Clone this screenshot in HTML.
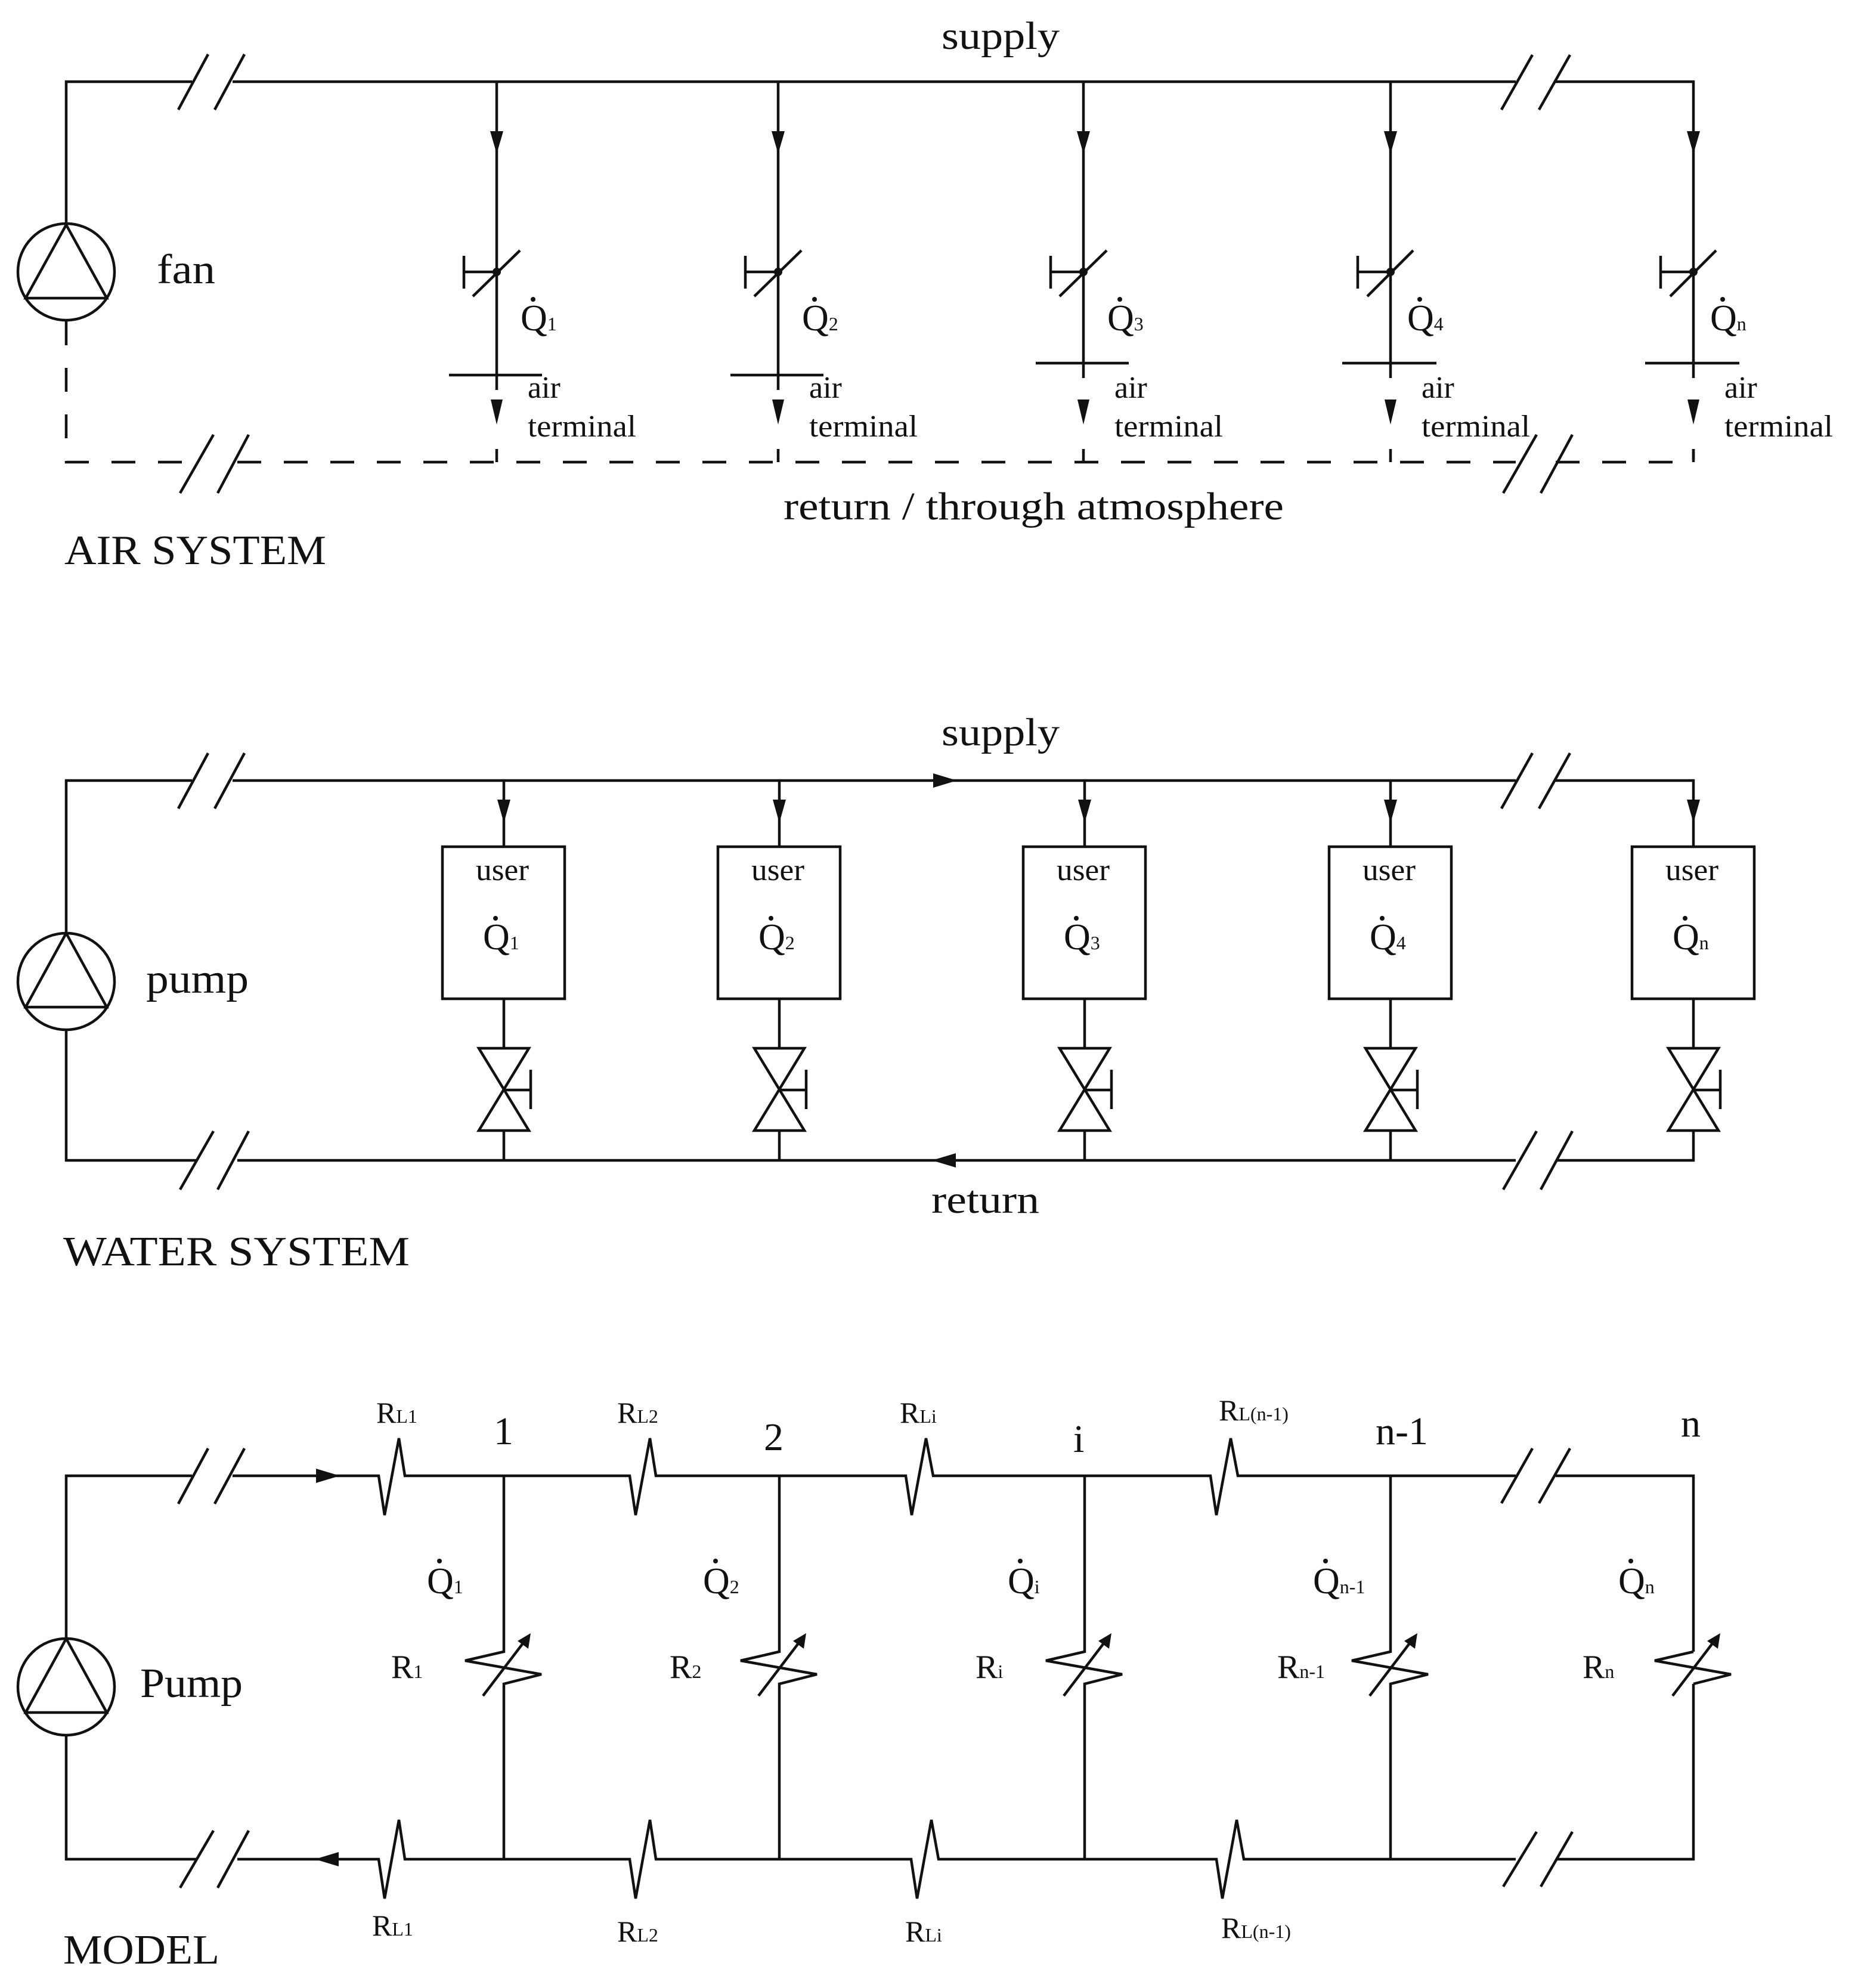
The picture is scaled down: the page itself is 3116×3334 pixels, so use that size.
<!DOCTYPE html>
<html><head><meta charset="utf-8"><style>
html,body{margin:0;padding:0;background:#fff}
svg{display:block}
text{font-family:"Liberation Serif",serif;fill:#111}
.l{stroke:#111;stroke-width:4.5;fill:none}
.d{stroke:#111;stroke-width:4.5;fill:none;stroke-dasharray:40 38}
.f{fill:#111;stroke:none}
</style></head><body>
<svg width="3116" height="3334" viewBox="0 0 3116 3334" xmlns="http://www.w3.org/2000/svg">
<!-- ================= AIR SYSTEM ================= -->
<path class="l" d="M111,377 V137 H322 M390,137 H2542 M2609,137 H2840 V609"/>
<path class="l" d="M299,184 L349,91 M360,184 L410,91 M2518,184 L2570,92 M2581,184 L2633,92"/>
<circle class="l" cx="111" cy="456" r="81"/>
<path class="l" d="M111,377 L43,500 H179 Z"/>
<path class="d" d="M111,539 V775 H330"/>
<path class="d" d="M398,775 H2542"/>
<path class="d" d="M2609,775 H2840 V753"/>
<path class="l" d="M302,827 L358,729 M365,827 L417,729 M2521,827 L2577,729 M2584,827 L2637,729"/>
<text x="1579" y="82" font-size="66" textLength="198" lengthAdjust="spacingAndGlyphs">supply</text>
<text x="263" y="475" font-size="70" textLength="98" lengthAdjust="spacingAndGlyphs">fan</text>
<text x="1314" y="871" font-size="66" textLength="839" lengthAdjust="spacingAndGlyphs">return / through atmosphere</text>
<text x="108" y="946" font-size="70" textLength="439" lengthAdjust="spacingAndGlyphs">AIR SYSTEM</text>

<!-- air branch 1 -->
<g>
<path class="l" d="M833,137 V629 M753,629 H909 M833,629 V654 M778,456 H833 M778,429 V484 M793,497 L872,420 M833,753 V775"/>
<polygon class="f" points="822,220 844,220 833,258"/><polygon class="f" points="823,670 843,670 833,712"/>
<circle class="f" cx="833" cy="456" r="7"/>
<text x="873" y="554" font-size="62">Q<tspan font-size="32">1</tspan></text><circle class="f" cx="894" cy="502" r="4"/>
<text x="885" y="667" font-size="52">air</text><text x="885" y="732" font-size="52" textLength="182" lengthAdjust="spacingAndGlyphs">terminal</text>
</g>
<!-- air branch 2 -->
<g>
<path class="l" d="M1305,137 V629 M1225,629 H1381 M1305,629 V654 M1250,456 H1305 M1250,429 V484 M1265,497 L1344,420 M1305,753 V775"/>
<polygon class="f" points="1294,220 1316,220 1305,258"/><polygon class="f" points="1295,670 1315,670 1305,712"/>
<circle class="f" cx="1305" cy="456" r="7"/>
<text x="1345" y="554" font-size="62">Q<tspan font-size="32">2</tspan></text><circle class="f" cx="1366" cy="502" r="4"/>
<text x="1357" y="667" font-size="52">air</text><text x="1357" y="732" font-size="52" textLength="182" lengthAdjust="spacingAndGlyphs">terminal</text>
</g>
<!-- air branch 3 -->
<g>
<path class="l" d="M1817,137 V609 M1737,609 H1893 M1817,609 V634 M1762,456 H1817 M1762,429 V484 M1777,497 L1856,420 M1817,753 V775"/>
<polygon class="f" points="1806,220 1828,220 1817,258"/><polygon class="f" points="1807,670 1827,670 1817,712"/>
<circle class="f" cx="1817" cy="456" r="7"/>
<text x="1857" y="554" font-size="62">Q<tspan font-size="32">3</tspan></text><circle class="f" cx="1878" cy="502" r="4"/>
<text x="1869" y="667" font-size="52">air</text><text x="1869" y="732" font-size="52" textLength="182" lengthAdjust="spacingAndGlyphs">terminal</text>
</g>
<!-- air branch 4 -->
<g>
<path class="l" d="M2332,137 V609 M2251,609 H2409 M2332,609 V634 M2277,456 H2332 M2277,429 V484 M2293,497 L2370,420 M2332,753 V775"/>
<polygon class="f" points="2321,220 2343,220 2332,258"/><polygon class="f" points="2322,670 2342,670 2332,712"/>
<circle class="f" cx="2332" cy="456" r="7"/>
<text x="2360" y="554" font-size="62">Q<tspan font-size="32">4</tspan></text><circle class="f" cx="2381" cy="502" r="4"/>
<text x="2384" y="667" font-size="52">air</text><text x="2384" y="732" font-size="52" textLength="182" lengthAdjust="spacingAndGlyphs">terminal</text>
</g>
<!-- air branch n -->
<g>
<path class="l" d="M2759,609 H2917 M2840,609 V634 M2785,456 H2840 M2785,429 V484 M2801,497 L2878,420 M2840,753 V775"/>
<polygon class="f" points="2829,220 2851,220 2840,258"/><polygon class="f" points="2830,670 2850,670 2840,712"/>
<circle class="f" cx="2840" cy="456" r="7"/>
<text x="2868" y="554" font-size="62">Q<tspan font-size="32">n</tspan></text><circle class="f" cx="2889" cy="502" r="4"/>
<text x="2892" y="667" font-size="52">air</text><text x="2892" y="732" font-size="52" textLength="182" lengthAdjust="spacingAndGlyphs">terminal</text>
</g>

<!-- ================= WATER SYSTEM ================= -->
<path class="l" d="M111,1565 V1309 H322 M390,1309 H2542 M2609,1309 H2840 V1420"/>
<path class="l" d="M111,1727 V1946 H330 M398,1946 H2542 M2609,1946 H2840 V1896"/>
<path class="l" d="M299,1356 L349,1263 M360,1356 L410,1263 M2518,1356 L2570,1263 M2581,1356 L2633,1263"/>
<path class="l" d="M302,1995 L358,1897 M365,1995 L417,1897 M2521,1995 L2577,1897 M2584,1995 L2637,1897"/>
<circle class="l" cx="111" cy="1646" r="81"/>
<path class="l" d="M111,1565 L43,1689 H179 Z"/>
<polygon class="f" points="1565,1297 1565,1321 1605,1309"/>
<polygon class="f" points="1603,1934 1603,1958 1563,1946"/>
<text x="1579" y="1250" font-size="66" textLength="198" lengthAdjust="spacingAndGlyphs">supply</text>
<text x="245" y="1665" font-size="70" textLength="172" lengthAdjust="spacingAndGlyphs">pump</text>
<text x="1562" y="2034" font-size="66" textLength="181" lengthAdjust="spacingAndGlyphs">return</text>
<text x="106" y="2122" font-size="70" textLength="581" lengthAdjust="spacingAndGlyphs">WATER SYSTEM</text>

<!-- water branches -->
<g>
<path class="l" d="M845,1309 V1420 M845,1675 V1758 M845,1896 V1946 M845,1828 H890 M890,1794 V1860"/>
<rect class="l" x="742" y="1420" width="205" height="255"/>
<path class="l" d="M803,1758 H887 L803,1896 H887 Z"/>
<polygon class="f" points="834,1341 856,1341 845,1380"/>
<text x="798" y="1476" font-size="52" textLength="89" lengthAdjust="spacingAndGlyphs">user</text>
<text x="810" y="1592" font-size="62">Q<tspan font-size="32">1</tspan></text><circle class="f" cx="831" cy="1540" r="4"/>
</g>
<g>
<path class="l" d="M1307,1309 V1420 M1307,1675 V1758 M1307,1896 V1946 M1307,1828 H1352 M1352,1794 V1860"/>
<rect class="l" x="1204" y="1420" width="205" height="255"/>
<path class="l" d="M1265,1758 H1349 L1265,1896 H1349 Z"/>
<polygon class="f" points="1296,1341 1318,1341 1307,1380"/>
<text x="1260" y="1476" font-size="52" textLength="89" lengthAdjust="spacingAndGlyphs">user</text>
<text x="1272" y="1592" font-size="62">Q<tspan font-size="32">2</tspan></text><circle class="f" cx="1293" cy="1540" r="4"/>
</g>
<g>
<path class="l" d="M1819,1309 V1420 M1819,1675 V1758 M1819,1896 V1946 M1819,1828 H1864 M1864,1794 V1860"/>
<rect class="l" x="1716" y="1420" width="205" height="255"/>
<path class="l" d="M1777,1758 H1861 L1777,1896 H1861 Z"/>
<polygon class="f" points="1808,1341 1830,1341 1819,1380"/>
<text x="1772" y="1476" font-size="52" textLength="89" lengthAdjust="spacingAndGlyphs">user</text>
<text x="1784" y="1592" font-size="62">Q<tspan font-size="32">3</tspan></text><circle class="f" cx="1805" cy="1540" r="4"/>
</g>
<g>
<path class="l" d="M2332,1309 V1420 M2332,1675 V1758 M2332,1896 V1946 M2332,1828 H2377 M2377,1794 V1860"/>
<rect class="l" x="2229" y="1420" width="205" height="255"/>
<path class="l" d="M2290,1758 H2374 L2290,1896 H2374 Z"/>
<polygon class="f" points="2321,1341 2343,1341 2332,1380"/>
<text x="2285" y="1476" font-size="52" textLength="89" lengthAdjust="spacingAndGlyphs">user</text>
<text x="2297" y="1592" font-size="62">Q<tspan font-size="32">4</tspan></text><circle class="f" cx="2318" cy="1540" r="4"/>
</g>
<g>
<path class="l" d="M2840,1675 V1758 M2840,1828 H2885 M2885,1794 V1860"/>
<rect class="l" x="2737" y="1420" width="205" height="255"/>
<path class="l" d="M2798,1758 H2882 L2798,1896 H2882 Z"/>
<polygon class="f" points="2829,1341 2851,1341 2840,1380"/>
<text x="2793" y="1476" font-size="52" textLength="89" lengthAdjust="spacingAndGlyphs">user</text>
<text x="2805" y="1592" font-size="62">Q<tspan font-size="32">n</tspan></text><circle class="f" cx="2826" cy="1540" r="4"/>
</g>

<!-- ================= MODEL ================= -->
<path class="l" d="M111,2748 V2475 H322 M390,2475 H635 L645,2541 L669,2412 L679,2475 H1056 L1066,2541 L1090,2412 L1100,2475 H1519 L1529,2541 L1553,2412 L1565,2475 H2030 L2040,2541 L2064,2412 L2076,2475 H2542 M2609,2475 H2840 V2770"/>
<path class="l" d="M111,2910 V3118 H330 M398,3118 H635 L645,3184 L669,3052 L679,3118 H1056 L1066,3184 L1090,3052 L1100,3118 H1528 L1538,3184 L1562,3052 L1574,3118 H2040 L2050,3184 L2074,3052 L2086,3118 H2542 M2609,3118 H2840 V2824"/>
<path class="l" d="M299,2522 L349,2429 M360,2522 L410,2429 M2518,2521 L2570,2429 M2581,2521 L2633,2429"/>
<path class="l" d="M302,3166 L358,3070 M365,3166 L417,3070 M2521,3164 L2577,3072 M2584,3164 L2637,3072"/>
<circle class="l" cx="111" cy="2829" r="81"/>
<path class="l" d="M111,2748 L43,2872 H179 Z"/>
<polygon class="f" points="530,2463 530,2487 570,2475"/>
<polygon class="f" points="568,3106 568,3130 528,3118"/>
<text x="235" y="2846" font-size="70" textLength="172" lengthAdjust="spacingAndGlyphs">Pump</text>
<text x="106" y="3293" font-size="70" textLength="262" lengthAdjust="spacingAndGlyphs">MODEL</text>

<!-- branch variable resistors -->
<g>
<path class="l" d="M845,2475 V2770 L780,2785 L908,2808 L845,2824 V3118 M810,2844 L880,2752"/>
<polygon class="f" points="890,2739 868,2752 886,2765"/>
<path class="l" d="M1307,2475 V2770 L1242,2785 L1370,2808 L1307,2824 V3118 M1272,2844 L1342,2752"/>
<polygon class="f" points="1352,2739 1330,2752 1348,2765"/>
<path class="l" d="M1819,2475 V2770 L1754,2785 L1882,2808 L1819,2824 V3118 M1784,2844 L1854,2752"/>
<polygon class="f" points="1864,2739 1842,2752 1860,2765"/>
<path class="l" d="M2332,2475 V2770 L2267,2785 L2395,2808 L2332,2824 V3118 M2297,2844 L2367,2752"/>
<polygon class="f" points="2377,2739 2355,2752 2373,2765"/>
<path class="l" d="M2840,2770 L2775,2785 L2903,2808 L2840,2824 M2805,2844 L2875,2752"/>
<polygon class="f" points="2885,2739 2863,2752 2881,2765"/>
</g>

<!-- model labels -->
<text x="631" y="2386" font-size="50">R<tspan font-size="32">L1</tspan></text>
<text x="1035" y="2386" font-size="50">R<tspan font-size="32">L2</tspan></text>
<text x="1509" y="2386" font-size="50">R<tspan font-size="32">Li</tspan></text>
<text x="2044" y="2382" font-size="50">R<tspan font-size="32">L(n-1)</tspan></text>
<text x="624" y="3246" font-size="50">R<tspan font-size="32">L1</tspan></text>
<text x="1035" y="3256" font-size="50">R<tspan font-size="32">L2</tspan></text>
<text x="1518" y="3256" font-size="50">R<tspan font-size="32">Li</tspan></text>
<text x="2048" y="3250" font-size="50">R<tspan font-size="32">L(n-1)</tspan></text>

<text x="828" y="2422" font-size="66">1</text>
<text x="1281" y="2432" font-size="66">2</text>
<text x="1800" y="2435" font-size="66">i</text>
<text x="2307" y="2422" font-size="66">n-1</text>
<text x="2819" y="2409" font-size="66">n</text>

<text x="716" y="2672" font-size="62">Q<tspan font-size="32">1</tspan></text><circle class="f" cx="737" cy="2618" r="4"/>
<text x="1179" y="2672" font-size="62">Q<tspan font-size="32">2</tspan></text><circle class="f" cx="1200" cy="2618" r="4"/>
<text x="1690" y="2672" font-size="62">Q<tspan font-size="32">i</tspan></text><circle class="f" cx="1711" cy="2618" r="4"/>
<text x="2202" y="2672" font-size="62">Q<tspan font-size="32">n-1</tspan></text><circle class="f" cx="2223" cy="2618" r="4"/>
<text x="2714" y="2672" font-size="62">Q<tspan font-size="32">n</tspan></text><circle class="f" cx="2735" cy="2618" r="4"/>

<text x="656" y="2814" font-size="56">R<tspan font-size="32">1</tspan></text>
<text x="1123" y="2814" font-size="56">R<tspan font-size="32">2</tspan></text>
<text x="1636" y="2814" font-size="56">R<tspan font-size="32">i</tspan></text>
<text x="2142" y="2814" font-size="56">R<tspan font-size="32">n-1</tspan></text>
<text x="2654" y="2814" font-size="56">R<tspan font-size="32">n</tspan></text>
</svg>
</body></html>
